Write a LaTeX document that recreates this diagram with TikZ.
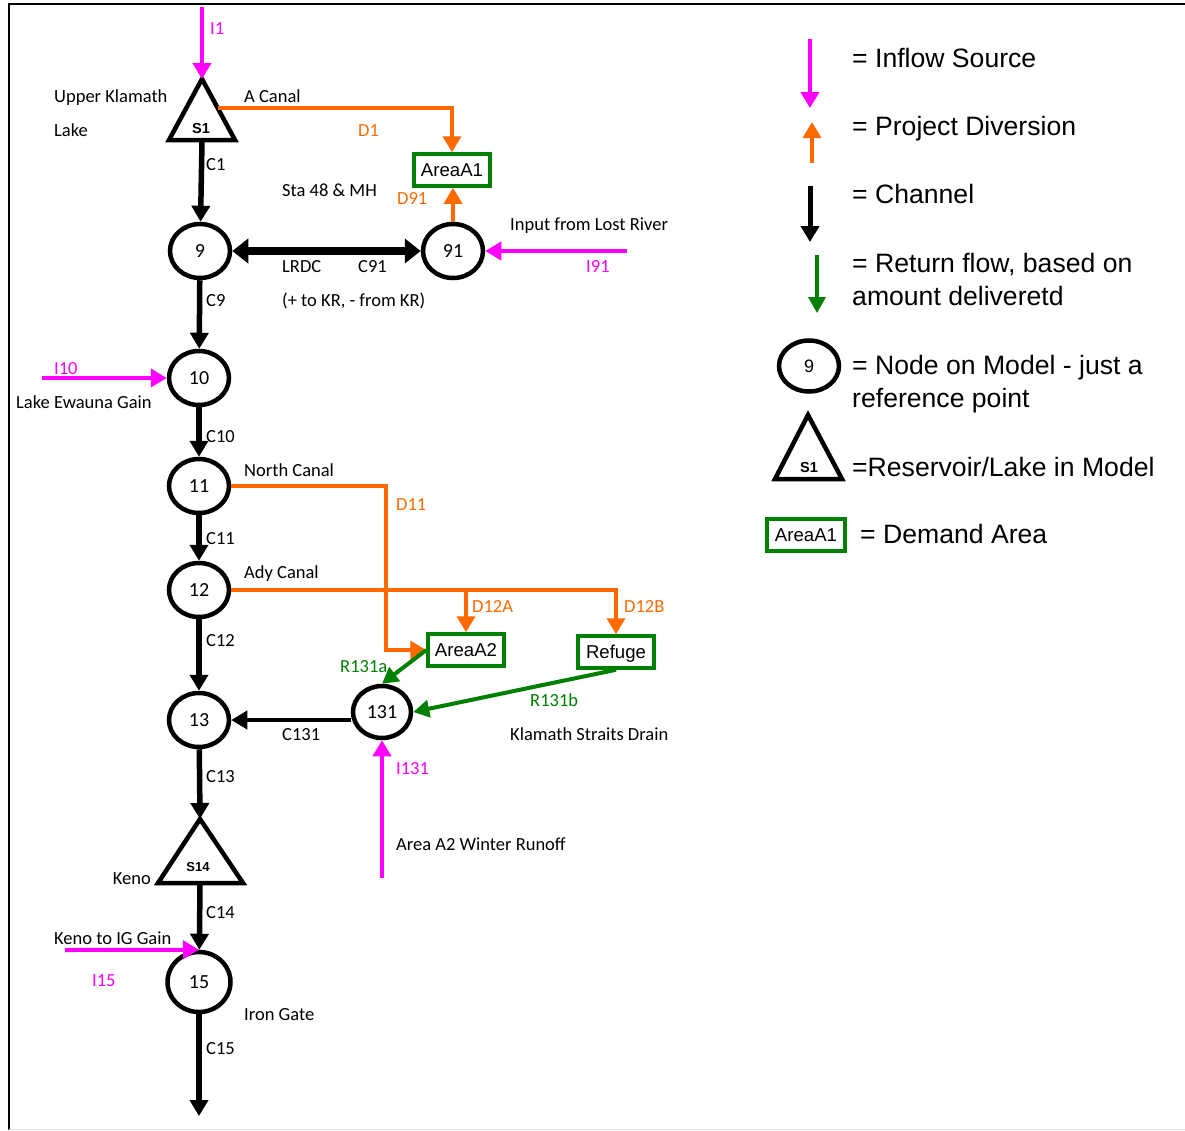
\documentclass[tikz,border=0pt]{standalone}
\usepackage{fontspec}
\setmainfont{Carlito}
\newfontfamily\arial{Liberation Sans}
\usetikzlibrary{shapes.geometric,arrows.meta}

\definecolor{srcpink}{RGB}{255,0,255}
\definecolor{divorange}{RGB}{255,106,0}
\definecolor{retgreen}{RGB}{0,128,0}

\tikzset{
  every node/.style={inner sep=0pt},
  lbl/.style={font=\fontsize{18.5}{20}\selectfont, text height=12pt, text depth=0pt, anchor=west},
  key/.style={font=\arial\fontsize{26.6}{30}\selectfont, text height=19pt, text depth=0pt, anchor=west},
  mdl/.style={ellipse, draw, line width=4.5pt, minimum width=60pt, minimum height=54pt,
    font=\fontsize{20}{22}\selectfont, text height=13pt, text depth=0pt},
  area/.style={draw=retgreen, line width=3.5pt, minimum width=76pt, minimum height=32pt,
    font=\arial\fontsize{18.6}{20}\selectfont, text height=13.3pt, text depth=0pt},
  res/.style={line width=4.5pt},
  sname/.style={font=\arial\bfseries\fontsize{14.5}{16}\selectfont, text height=10.4pt, text depth=0pt},
  channel/.style={line width=5.5pt, -{Triangle[length=16pt,width=18pt]}},
  lrdc/.style={line width=8pt, {Triangle[length=16pt,width=24pt]}-{Triangle[length=16pt,width=24pt]}},
  source/.style={draw=srcpink, line width=4pt, -{Triangle[length=16pt,width=18pt]}},
  diversion/.style={draw=divorange, line width=3.5pt, -{Triangle[length=16pt,width=18pt]}},
  returnflow/.style={draw=retgreen, line width=4pt, -{Triangle[length=16pt,width=17pt]}},
}

\begin{document}
\begin{tikzpicture}[x=1pt, y=-1pt]
  \useasboundingbox (0,0) rectangle (1185,1130);
  % frame
  \draw[line width=2pt] (9,1130) -- (9,4) -- (1185,4);
  \draw[gray!25] (9,1129.5) -- (1185,1129.5);

  % model nodes
  \node[mdl] (n9) at (200,251) {9};
  \node[mdl] (n91) at (453,251) {91};
  \node[mdl] (n10) at (199,378) {10};
  \node[mdl] (n11) at (199,486) {11};
  \node[mdl] (n12) at (199,590) {12};
  \node[mdl] (n13) at (199,720) {13};
  \node[mdl, minimum width=58pt, minimum height=52pt] (n131) at (382,712) {131};
  \node[mdl, minimum width=63pt, minimum height=60pt] (n15) at (199,982) {15};

  % reservoirs
  \coordinate (s1top) at (202,79);
  \coordinate (s1l) at (169,140);
  \coordinate (s1r) at (235,140);
  \coordinate (s1bot) at (202,142);
  \draw[res] (s1top) -- (s1l) -- (s1r) -- cycle;
  \node[sname] (s1) at (201,128) {S1};

  \coordinate (s14top) at (200,819);
  \coordinate (s14l) at (158,883);
  \coordinate (s14r) at (243,883);
  \coordinate (s14bot) at (200,885);
  \draw[res] (s14top) -- (s14l) -- (s14r) -- cycle;
  \node[sname, font=\arial\bfseries\fontsize{13}{15}\selectfont, text height=9.3pt] (s14) at (198,867) {S14};

  % demand areas
  \node[area] (a1) at (452,170) {AreaA1};
  \node[area] (a2) at (466,650) {AreaA2};
  \node[area] (refuge) at (616,652) {Refuge};

  % free ends
  \coordinate (i1) at (202,7);
  \coordinate (acanal) at (218,108);
  \coordinate (i91) at (627,251);
  \coordinate (i10) at (42,378);
  \coordinate (d11) at (386,486);
  \coordinate (i131) at (382,878);
  \coordinate (i15) at (65,950);
  \coordinate (c15end) at (199,1116);

  % flows
  \draw[source] (i1) -- (s1top);
  \draw[diversion] (acanal) -| (a1);
  \draw[channel] (s1bot) -- (n9);
  \draw[diversion] (n91.north) -- (n91.north |- a1.south);
  \draw[lrdc] (n9) -- (n91);
  \draw[source] (i91) -- (n91);
  \draw[channel] (n9) -- (n10);
  \draw[source] (i10) -- (n10);
  \draw[channel] (n10) -- (n11);
  \draw[channel] (n11) -- (n12);
  \draw[diversion] (n11.east) -- (d11) |- (a2.west);
  \draw[diversion] (n12.east) -| (a2);
  \draw[diversion] (n12.east) -| (refuge);
  \draw[channel] (n12) -- (n13);
  \draw[returnflow] (a2.west) -- (n131.north);
  \draw[returnflow] (refuge.south) -- (n131.east);
  \draw[channel, line width=4.5pt] (n131.west |- n13) -- (n13);
  \draw[source] (i131) -- (n131);
  \draw[channel] (n13) -- (s14top);
  \draw[channel] (s14bot) -- (n15);
  \draw[source] (i15) -- (n15.north);
  \draw[channel] (n15) -- (c15end);

  % labels
  \node[lbl, text=srcpink] (tI1) at (210,28) {I1};
  \node[lbl] (tUpper) at (54,96) {Upper Klamath};
  \node[lbl] (tLake) at (54,130) {Lake};
  \node[lbl] (tACanal) at (244,96) {A Canal};
  \node[lbl, text=divorange] (tD1) at (358,130) {D1};
  \node[lbl] (tC1) at (206,164) {C1};
  \node[lbl] (tSta) at (282,190) {Sta 48 \& MH};
  \node[lbl, text=divorange] (tD91) at (397,198) {D91};
  \node[lbl] (tLost) at (510,224) {Input from Lost River};
  \node[lbl] (tLRDC) at (282,266) {LRDC};
  \node[lbl] (tC91) at (358,266) {C91};
  \node[lbl, text=srcpink] (tI91) at (586,266) {I91};
  \node[lbl] (tC9) at (206,300) {C9};
  \node[lbl] (tKR) at (282,300) {(+ to KR, - from KR)};
  \node[lbl, text=srcpink] (tI10) at (54,368) {I10};
  \node[lbl] (tEwauna) at (16,402) {Lake Ewauna Gain};
  \node[lbl] (tC10) at (206,436) {C10};
  \node[lbl] (tNorth) at (244,470) {North Canal};
  \node[lbl, text=divorange] (tD11) at (396,504) {D11};
  \node[lbl] (tC11) at (206,538) {C11};
  \node[lbl] (tAdy) at (244,572) {Ady Canal};
  \node[lbl, text=divorange] (tD12A) at (472,606) {D12A};
  \node[lbl, text=divorange] (tD12B) at (624,606) {D12B};
  \node[lbl] (tC12) at (206,640) {C12};
  \node[lbl, text=retgreen] (tR131a) at (340,666) {R131a};
  \node[lbl, text=retgreen] (tR131b) at (530,700) {R131b};
  \node[lbl] (tC131) at (282,734) {C131};
  \node[lbl] (tStraits) at (510,734) {Klamath Straits Drain};
  \node[lbl, text=srcpink] (tI131) at (396,768) {I131};
  \node[lbl] (tC13) at (206,776) {C13};
  \node[lbl] (tRunoff) at (396,844) {Area A2 Winter Runoff};
  \node[lbl, anchor=east] (tKeno) at (151,878) {Keno};
  \node[lbl] (tC14) at (206,912) {C14};
  \node[lbl] (tKenoIG) at (54,938) {Keno to IG Gain};
  \node[lbl, text=srcpink] (tI15) at (92,980) {I15};
  \node[lbl] (tIron) at (244,1014) {Iron Gate};
  \node[lbl] (tC15) at (206,1048) {C15};

  % legend
  \coordinate (kin1) at (810,39);
  \coordinate (kin2) at (810,108);
  \coordinate (kdv1) at (812,163);
  \coordinate (kdv2) at (812,122);
  \coordinate (kch1) at (810,186);
  \coordinate (kch2) at (810,242);
  \coordinate (krt1) at (817,255);
  \coordinate (krt2) at (817,313);
  \draw[source] (kin1) -- (kin2);
  \draw[diversion] (kdv1) -- (kdv2);
  \draw[channel, line width=5pt] (kch1) -- (kch2);
  \draw[returnflow, line width=3.5pt] (krt1) -- (krt2);
  \node[mdl, minimum width=60pt, minimum height=51pt, font=\arial\fontsize{18}{20}\selectfont] (k9) at (809,366) {9};
  \coordinate (kstop) at (808,415);
  \coordinate (ksl) at (775,479);
  \coordinate (ksr) at (842,479);
  \draw[res] (kstop) -- (ksl) -- (ksr) -- cycle;
  \node[sname] (ks1) at (809,467) {S1};
  \node[area, minimum width=78pt] (ka1) at (806,535) {AreaA1};

  \node[key] (kInflow) at (852,58) {= Inflow Source};
  \node[key] (kDiv) at (852,126) {= Project Diversion};
  \node[key] (kChan) at (852,194) {= Channel};
  \node[key] (kRet) at (852,263) {= Return flow, based on};
  \node[key] (kRet2) at (852,296) {amount deliveretd};
  \node[key] (kNode) at (852,365) {= Node on Model - just a};
  \node[key] (kNode2) at (852,398) {reference point};
  \node[key] (kRes) at (852,467) {=Reservoir/Lake in Model};
  \node[key] (kArea) at (860,534) {= Demand Area};
\end{tikzpicture}
\end{document}
